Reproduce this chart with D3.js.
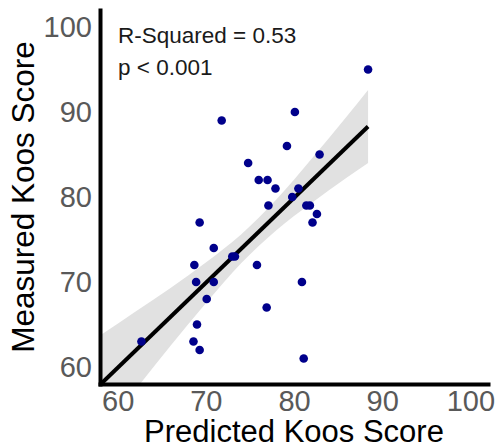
<!DOCTYPE html>
<html>
<head>
<meta charset="utf-8">
<script src="https://cdn.jsdelivr.net/npm/d3@7"></script>
<style>
    body { margin: 0; background: #fff; }
    text { font-family: "Liberation Sans", Arial, sans-serif; }
</style>
</head>
<body>
<script>
"use strict";

// ----------------------------------------
//  Data
// ----------------------------------------
let predicted = [88.4, 80.1, 71.8, 79.2, 82.9, 74.8, 76.0, 77.0, 77.9, 80.5, 79.8, 77.1, 81.4, 81.8, 82.6, 82.1,
                 69.3, 70.9, 73.0, 73.3, 68.7, 75.8, 68.9, 70.9, 80.9, 70.1, 76.9, 69.0, 62.7, 68.6, 69.3, 81.1];
let measured  = [95, 90, 89, 86, 85, 84, 82, 82, 81, 81, 80, 79, 79, 79, 78, 77,
                 77, 74, 73, 73, 72, 72, 70, 70, 70, 68, 67, 65, 63, 63, 62, 61];

// fitted line and its confidence band
let fitX   = [58, 88.4];
let fitY   = [57.9, 88.3];
let bandX  = [58, 62, 66, 70, 74, 78, 82, 86, 88.4];
let bandLo = [52.1, 57.3, 62.5, 67.5, 72.2, 76.1, 79.3, 82.3, 84.0];
let bandHi = [63.7, 66.5, 69.3, 72.3, 75.6, 79.7, 84.5, 89.5, 92.6];

let ticks = [60, 70, 80, 90, 100];
let stats = ["R-Squared = 0.53", "p < 0.001"];

// ----------------------------------------
//  Scales
// ----------------------------------------
let width = 497, height = 448;
let mLeft = 100, mRight = 488, mTop = 10, mBottom = 384;

let x_scale = d3.scaleLinear().domain([58, 102]).range([mLeft, mRight]);
let y_scale = d3.scaleLinear().domain([58, 102]).range([mBottom, mTop]);

let svg = d3.select("body").append("svg")
    .attr("width", width)
    .attr("height", height);

svg.append("clipPath").attr("id", "panel")
    .append("rect")
    .attr("x", mLeft).attr("y", mTop)
    .attr("width", mRight - mLeft).attr("height", mBottom - mTop);

let panel = svg.append("g").attr("clip-path", "url(#panel)");

// ----------------------------------------
//  Band, line, points
// ----------------------------------------
let band = d3.area()
    .x(function(d, i) { return x_scale(bandX[i]); })
    .y0(function(d, i) { return y_scale(bandLo[i]); })
    .y1(function(d, i) { return y_scale(bandHi[i]); })
    .curve(d3.curveMonotoneX);

panel.append("path")
    .datum(bandX)
    .attr("d", band)
    .attr("fill", "#e1e1e1");

let line = d3.line()
    .x(function(d, i) { return x_scale(fitX[i]); })
    .y(function(d, i) { return y_scale(fitY[i]); });

panel.append("path")
    .datum(fitX)
    .attr("d", line)
    .attr("fill", "none")
    .attr("stroke", "#000")
    .attr("stroke-width", 4);

panel.selectAll(".pt")
    .data(predicted)
    .enter()
    .append("circle")
    .attr("class", "pt")
    .attr("cx", function(d) { return x_scale(d); })
    .attr("cy", function(d, i) { return y_scale(measured[i]); })
    .attr("r", 4.3)
    .attr("fill", "#00008b");

// ----------------------------------------
//  Axes
// ----------------------------------------
let xAxis = svg.append("g")
    .attr("transform", "translate(0," + mBottom + ")")
    .call(d3.axisBottom(x_scale).tickValues(ticks).tickSize(0).tickSizeOuter(0).tickPadding(6));

let yAxis = svg.append("g")
    .attr("transform", "translate(" + mLeft + ",0)")
    .call(d3.axisLeft(y_scale).tickValues(ticks).tickSize(0).tickSizeOuter(0).tickPadding(8));

[xAxis, yAxis].forEach(function(g) {
    g.select(".domain")
        .attr("stroke", "#000")
        .attr("stroke-width", 4)
        .attr("stroke-linecap", "square");
    g.selectAll("text")
        .attr("fill", "#595959")
        .style("font-size", "29px")
        .style("font-family", "'Liberation Sans', Arial, sans-serif");
});

// axis titles
svg.append("text")
    .attr("x", (mLeft + mRight) / 2)
    .attr("y", 442)
    .attr("text-anchor", "middle")
    .style("font-size", "31px")
    .attr("fill", "#000")
    .text("Predicted Koos Score");

svg.append("text")
    .attr("transform", "translate(34," + (mTop + mBottom) / 2 + ") rotate(-90)")
    .attr("text-anchor", "middle")
    .style("font-size", "31.5px")
    .attr("fill", "#000")
    .text("Measured Koos Score");

// stats text
svg.selectAll(".stat")
    .data(stats)
    .enter()
    .append("text")
    .attr("class", "stat")
    .attr("x", 118)
    .attr("y", function(d, i) { return 43 + i * 32; })
    .style("font-size", "22.5px")
    .attr("fill", "#1a1a1a")
    .text(function(d) { return d; });
</script>
</body>
</html>
